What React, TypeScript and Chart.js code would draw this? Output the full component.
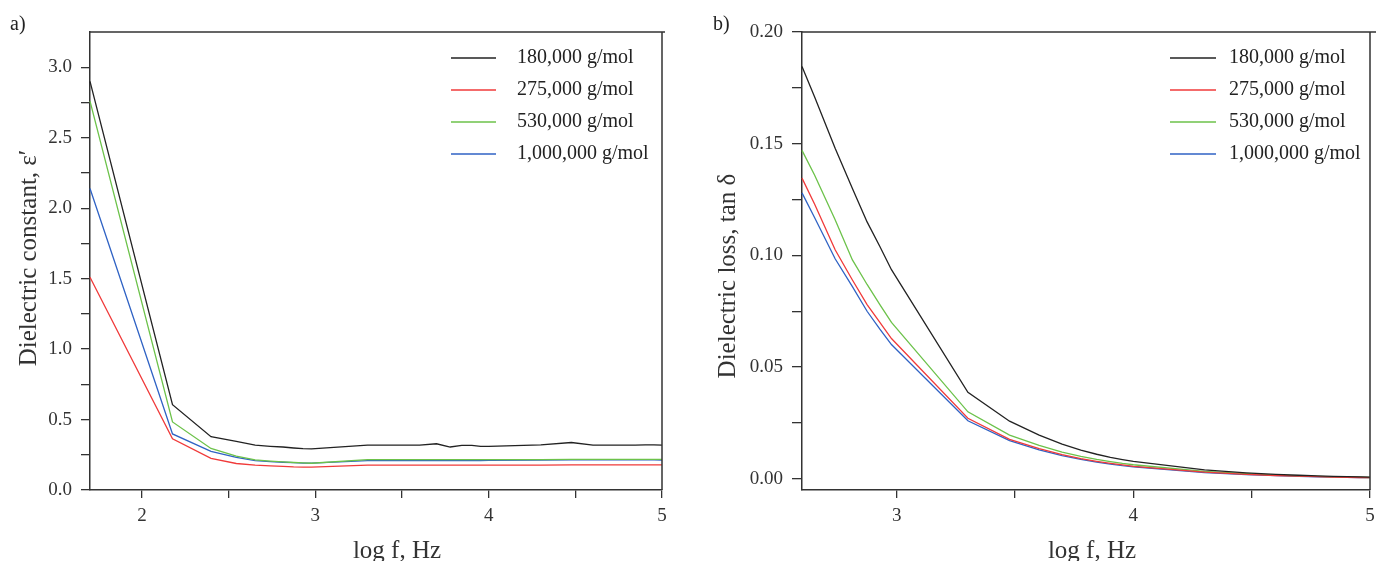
import React, { useEffect, useRef } from 'react';
import { Chart, registerables } from 'chart.js';

Chart.register(...registerables);

// ---------- data ----------
const seriesLabels = ['180,000 g/mol', '275,000 g/mol', '530,000 g/mol', '1,000,000 g/mol'];
const seriesColors = ['#222222', '#f03a3a', '#6cc24a', '#2f62c4'];

// panel a) : dielectric constant vs log f
const logFA = [1.70, 2.176, 2.398, 2.544, 2.653, 2.740, 2.813, 2.875, 2.929, 2.978, 3.301, 3.477, 3.602, 3.699, 3.778, 3.845, 3.903, 3.954, 4.000, 4.301, 4.477, 4.602, 4.699, 4.778, 4.845, 4.903, 4.954, 5.000, 5.041];
const eps180k = [2.90, 0.605, 0.378, 0.345, 0.318, 0.310, 0.305, 0.298, 0.293, 0.292, 0.318, 0.318, 0.318, 0.328, 0.305, 0.316, 0.316, 0.310, 0.310, 0.320, 0.337, 0.318, 0.318, 0.318, 0.318, 0.320, 0.320, 0.318, 0.316];
const eps275k = [1.51, 0.364, 0.224, 0.188, 0.176, 0.171, 0.167, 0.164, 0.163, 0.162, 0.176, 0.176, 0.176, 0.176, 0.176, 0.176, 0.176, 0.176, 0.176, 0.177, 0.178, 0.178, 0.178, 0.178, 0.178, 0.178, 0.178, 0.178, 0.178];
const eps530k = [2.76, 0.483, 0.295, 0.240, 0.214, 0.205, 0.199, 0.195, 0.192, 0.190, 0.215, 0.215, 0.215, 0.215, 0.215, 0.215, 0.215, 0.215, 0.215, 0.216, 0.217, 0.217, 0.217, 0.217, 0.217, 0.217, 0.218, 0.218, 0.218];
const eps1M = [2.14, 0.398, 0.274, 0.232, 0.209, 0.202, 0.197, 0.194, 0.191, 0.190, 0.208, 0.208, 0.208, 0.209, 0.209, 0.209, 0.209, 0.209, 0.210, 0.213, 0.214, 0.214, 0.214, 0.214, 0.214, 0.214, 0.214, 0.213, 0.213];

// panel b) : dielectric loss (tan delta) vs log f
const logFB = [2.600, 2.653, 2.740, 2.813, 2.875, 2.929, 2.978, 3.301, 3.477, 3.602, 3.699, 3.778, 3.845, 3.903, 3.954, 4.000, 4.301, 4.477, 4.602, 4.699, 4.778, 4.845, 4.903, 4.954, 5.000];
const tan180k = [0.1846, 0.171, 0.148, 0.130, 0.115, 0.104, 0.0936, 0.0387, 0.0258, 0.0196, 0.0155, 0.0128, 0.0110, 0.0096, 0.0086, 0.0078, 0.0040, 0.0027, 0.0020, 0.0016, 0.0013, 0.0011, 0.0010, 0.0009, 0.0008];
const tan275k = [0.1346, 0.123, 0.1025, 0.089, 0.078, 0.070, 0.0628, 0.0271, 0.0177, 0.0135, 0.0108, 0.0090, 0.0078, 0.0069, 0.0062, 0.0056, 0.0030, 0.0020, 0.0015, 0.0012, 0.0010, 0.0008, 0.0007, 0.0006, 0.0005];
const tan530k = [0.147, 0.136, 0.116, 0.098, 0.087, 0.078, 0.070, 0.030, 0.0196, 0.0150, 0.0120, 0.0101, 0.0087, 0.0077, 0.0069, 0.0063, 0.0033, 0.0023, 0.0017, 0.0013, 0.0011, 0.0009, 0.0008, 0.0007, 0.0006];
const tan1M = [0.128, 0.117, 0.0985, 0.086, 0.075, 0.067, 0.0601, 0.026, 0.0171, 0.0130, 0.0104, 0.0087, 0.0075, 0.0066, 0.0059, 0.0054, 0.0028, 0.0019, 0.0014, 0.0011, 0.0009, 0.0008, 0.0007, 0.0006, 0.0005];

// ---------- styling ----------
const SERIF = '"Liberation Serif", "Times New Roman", serif';
const AXIS = '#333333';

const legendPlugin = {
  id: 'insideLegend',
  afterDraw(chart: any, _args: any, opts: any) {
    const { ctx, chartArea } = chart;
    ctx.save();
    chart.data.datasets.forEach((ds: any, i: number) => {
      const y = chartArea.top + opts.top + i * opts.spacing;
      const x0 = chartArea.right - opts.fromRight;
      ctx.strokeStyle = ds.borderColor;
      ctx.lineWidth = 1.3;
      ctx.beginPath();
      ctx.moveTo(x0, y);
      ctx.lineTo(x0 + opts.lineLen, y);
      ctx.stroke();
      ctx.fillStyle = '#222';
      ctx.font = `20px ${SERIF}`;
      ctx.textBaseline = 'middle';
      ctx.textAlign = 'left';
      ctx.fillText(ds.label, x0 + opts.textOffset, y);
    });
    ctx.restore();
  },
};

const framePlugin = {
  id: 'frame',
  afterDraw(chart: any, _args: any, opts: any) {
    const { ctx, chartArea } = chart;
    ctx.save();
    ctx.strokeStyle = AXIS;
    ctx.lineWidth = 1.5;
    ctx.beginPath();
    ctx.moveTo(chartArea.left, chartArea.top);
    ctx.lineTo(chartArea.right + (opts.topExtend || 0), chartArea.top);
    ctx.moveTo(chartArea.right, chartArea.top);
    ctx.lineTo(chartArea.right, chartArea.bottom);
    ctx.stroke();
    ctx.restore();
  },
};

// axis titles, placed relative to the chart area (the original figure is not centred exactly)
const axisTitlePlugin = {
  id: 'axisTitles',
  afterDraw(chart: any, _args: any, opts: any) {
    const { ctx, chartArea, height } = chart;
    ctx.save();
    ctx.fillStyle = AXIS;
    ctx.font = `25px ${SERIF}`;
    ctx.textAlign = 'center';
    ctx.textBaseline = 'middle';
    ctx.fillText(opts.xText, (chartArea.left + chartArea.right) / 2 + opts.xShift, height - opts.xFromBottom);
    ctx.translate(opts.yX, (chartArea.top + chartArea.bottom) / 2 + opts.yShift);
    ctx.rotate(-Math.PI / 2);
    ctx.fillText(opts.yText, 0, 0);
    ctx.restore();
  },
};

function buildDatasets(xs: number[], ys: number[][]) {
  return ys.map((arr, i) => ({
    label: seriesLabels[i],
    data: xs.map((x, j) => ({ x, y: arr[j] })),
    borderColor: seriesColors[i],
    backgroundColor: seriesColors[i],
    borderWidth: 1.3,
    pointRadius: 0,
    tension: 0,
    fill: false,
    clip: false as any,
  }));
}

type Panel = {
  xs: number[];
  ys: number[][];
  xMin: number;
  xMax: number;
  yMin: number;
  yMax: number;
  yStep: number;
  yMajor: number;
  yDecimals: number;
  titles: { xText: string; yText: string; xShift: number; xFromBottom: number; yX: number; yShift: number };
  yAxisWidth: number;
  yTickPad: number;
  yTickLen: number;
  padRight: number;
  topExtend: number;
  legend: { top: number; spacing: number; fromRight: number; lineLen: number; textOffset: number };
  dropTop?: number;
};

function isMultiple(v: number, step: number) {
  const r = v / step;
  return Math.abs(r - Math.round(r)) < 1e-6;
}

function makeConfig(p: Panel): any {
  return {
    type: 'line',
    data: { datasets: buildDatasets(p.xs, p.ys) },
    plugins: [legendPlugin, framePlugin, axisTitlePlugin],
    options: {
      responsive: false,
      animation: false,
      events: [],
      layout: { padding: { left: 0, top: 32, right: p.padRight, bottom: 0 } },
      plugins: {
        legend: { display: false },
        tooltip: { enabled: false },
        insideLegend: p.legend,
        frame: { topExtend: p.topExtend },
        axisTitles: p.titles,
      },
      scales: {
        x: {
          type: 'linear',
          min: p.xMin,
          max: p.xMax,
          afterFit: (s: any) => { s.height = 71; },
          border: { display: true, color: AXIS, width: 1.5 },
          grid: { drawOnChartArea: false, drawTicks: true, tickLength: 8, color: AXIS, lineWidth: 1.3 },
          ticks: {
            stepSize: 0.5,
            includeBounds: false,
            autoSkip: false,
            maxRotation: 0,
            padding: 7,
            color: AXIS,
            font: { family: SERIF, size: 19 },
            callback: (v: number) => (isMultiple(v, 1) ? String(Math.round(v)) : ''),
          },
          title: { display: false },
        },
        y: {
          type: 'linear',
          min: p.yMin,
          max: p.yMax,
          afterFit: (s: any) => { s.width = p.yAxisWidth; },
          afterBuildTicks: (s: any) => {
            if (p.dropTop !== undefined) s.ticks = s.ticks.filter((t: any) => t.value <= p.dropTop! + 1e-9);
          },
          border: { display: true, color: AXIS, width: 1.5 },
          grid: { drawOnChartArea: false, drawTicks: true, tickLength: p.yTickLen, color: AXIS, lineWidth: 1.3 },
          ticks: {
            stepSize: p.yStep,
            includeBounds: false,
            autoSkip: false,
            padding: p.yTickPad,
            color: AXIS,
            font: { family: SERIF, size: 19 },
            callback: (v: number) => (isMultiple(v, p.yMajor) ? v.toFixed(p.yDecimals) : ''),
          },
          title: { display: false },
        },
      },
    },
  };
}

const panelA: Panel = {
  xs: logFA,
  ys: [eps180k, eps275k, eps530k, eps1M],
  xMin: 1.7,
  xMax: 5.0,
  yMin: 0,
  yMax: 3.25,
  yStep: 0.25,
  yMajor: 0.5,
  yDecimals: 1,
  titles: { xText: 'log f, Hz', yText: 'Dielectric constant, ε′', xShift: 21, xFromBottom: 9.5, yX: 29.5, yShift: -3 },
  yAxisWidth: 90,
  yTickPad: 9,
  yTickLen: 9,
  padRight: 28,
  topExtend: 3,
  legend: { top: 26, spacing: 32, fromRight: 211, lineLen: 45, textOffset: 66 },
  dropTop: 3.0,
};

const panelB: Panel = {
  xs: logFB,
  ys: [tan180k, tan275k, tan530k, tan1M],
  xMin: 2.6,
  xMax: 5.0,
  yMin: -0.005,
  yMax: 0.2,
  yStep: 0.025,
  yMajor: 0.05,
  yDecimals: 2,
  titles: { xText: 'log f, Hz', yText: 'Dielectric loss, tan δ', xShift: 6, xFromBottom: 9.5, yX: 38, yShift: 15 },
  yAxisWidth: 112,
  yTickPad: 9,
  yTickLen: 10,
  padRight: 30,
  topExtend: 10,
  legend: { top: 26, spacing: 32, fromRight: 200, lineLen: 46, textOffset: 59 },
};

function ChartCanvas({ panel, width, height }: { panel: Panel; width: number; height: number }) {
  const ref = useRef<HTMLCanvasElement | null>(null);
  useEffect(() => {
    if (!ref.current) return;
    const chart = new Chart(ref.current, makeConfig(panel));
    return () => chart.destroy();
  }, [panel]);
  return <canvas ref={ref} width={width} height={height} style={{ width, height, display: 'block' }} />;
}

const labelStyle: React.CSSProperties = {
  position: 'absolute',
  fontFamily: SERIF,
  fontSize: 20,
  lineHeight: '20px',
  color: '#222',
};

export default function App() {
  return (
    <div style={{ position: 'absolute', left: 0, top: 0, width: 1376, height: 561, background: '#fff', overflow: 'hidden' }}>
      <div style={{ position: 'absolute', left: 0, top: 0 }}>
        <ChartCanvas panel={panelA} width={690} height={561} />
      </div>
      <div style={{ position: 'absolute', left: 690, top: 0 }}>
        <ChartCanvas panel={panelB} width={710} height={561} />
      </div>
      <div style={{ ...labelStyle, left: 10, top: 13 }}>a)</div>
      <div style={{ ...labelStyle, left: 713, top: 13 }}>b)</div>
    </div>
  );
}
